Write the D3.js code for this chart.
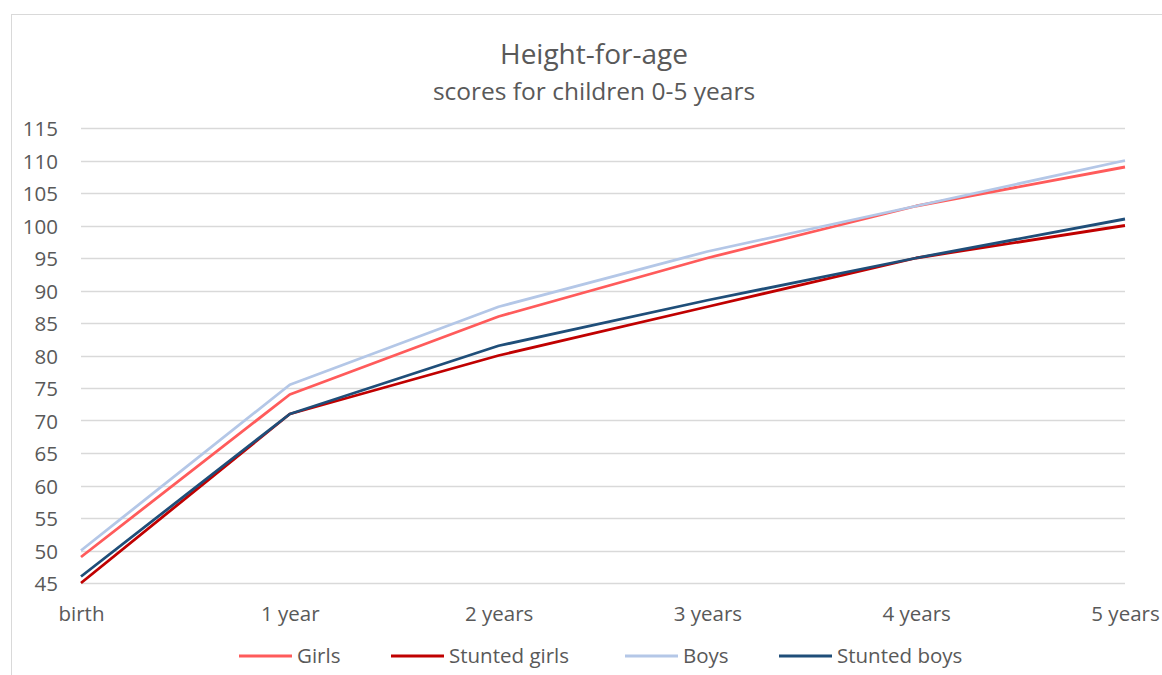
<!DOCTYPE html>
<html>
<head>
<meta charset="utf-8">
<script src="https://cdn.jsdelivr.net/npm/d3@7"></script>
<style>
  body { margin: 0; background: #fff; }
  svg { display: block; }
  text { font-family: "Open Sans", "Noto Sans", sans-serif; fill: #595959; }
</style>
</head>
<body>
<svg id="chart" width="1162" height="675"></svg>
<script>
const categories = ["birth", "1 year", "2 years", "3 years", "4 years", "5 years"];
const girls = [49, 74, 86, 95, 103, 109];
const stuntedGirls = [45, 71, 80, 87.5, 95, 100];
const boys = [50, 75.5, 87.5, 96, 103, 110];
const stuntedBoys = [46, 71, 81.5, 88.5, 95, 101];
const yTicks = [45, 50, 55, 60, 65, 70, 75, 80, 85, 90, 95, 100, 105, 110, 115];

const series = [
  { name: "Girls", values: girls, color: "#FF5B5B" },
  { name: "Stunted girls", values: stuntedGirls, color: "#C00000" },
  { name: "Boys", values: boys, color: "#B4C7E7" },
  { name: "Stunted boys", values: stuntedBoys, color: "#1F4E79" }
];

const svg = d3.select("#chart");
const W = 1162, H = 675;

// chart frame
svg.append("rect").attr("x", 11.5).attr("y", 14.5).attr("width", W + 10).attr("height", H + 10)
  .attr("fill", "none").attr("stroke", "#d9d9d9").attr("stroke-width", 1);

const x = d3.scalePoint().domain(categories).range([81, 1125]);
const y = d3.scaleLinear().domain([45, 115]).range([583, 128]);

// gridlines
svg.append("g").selectAll("line").data(yTicks).join("line")
  .attr("x1", 81).attr("x2", 1125)
  .attr("y1", d => Math.round(y(d)) + 0.5).attr("y2", d => Math.round(y(d)) + 0.5)
  .attr("stroke", "#d9d9d9").attr("stroke-width", 1.5);

// y axis
const yAxis = d3.axisLeft(y).tickValues(yTicks).tickSize(0).tickPadding(0);
const gy = svg.append("g").attr("transform", "translate(58,0)").call(yAxis);
gy.select(".domain").remove();
gy.selectAll("text").attr("dy", "7.5px").style("font-size", "20.5px").attr("fill", "#595959")
  .style("font-family", '"Open Sans", sans-serif');

// x axis
const xAxis = d3.axisBottom(x).tickSize(0).tickPadding(0);
const gx = svg.append("g").attr("transform", "translate(0,621)").call(xAxis);
gx.select(".domain").remove();
gx.selectAll("text").attr("y", 0).attr("dy", 0).style("font-size", "20.5px").attr("fill", "#595959")
  .style("font-family", '"Open Sans", sans-serif');

// lines
const line = d3.line().x((d, i) => x(categories[i])).y(d => y(d));
svg.append("g").selectAll("path").data(series).join("path")
  .attr("d", d => line(d.values))
  .attr("fill", "none").attr("stroke", d => d.color)
  .attr("stroke-width", 2.8).attr("stroke-linejoin", "round");

// title
svg.append("text").attr("x", 594).attr("y", 64).attr("text-anchor", "middle")
  .style("font-size", "28px").text("Height-for-age");
svg.append("text").attr("x", 594).attr("y", 100).attr("text-anchor", "middle")
  .style("font-size", "24.5px").text("scores for children 0-5 years");

// legend
const legendX = [239, 391, 625, 779];
const lg = svg.append("g").selectAll("g").data(series).join("g")
  .attr("transform", (d, i) => `translate(${legendX[i]},656)`);
lg.append("line").attr("x1", 0).attr("x2", 53).attr("y1", 0).attr("y2", 0)
  .attr("stroke", d => d.color).attr("stroke-width", 2.8);
lg.append("text").attr("x", 58).attr("y", 7).style("font-size", "20.5px").text(d => d.name);
</script>
</body>
</html>
